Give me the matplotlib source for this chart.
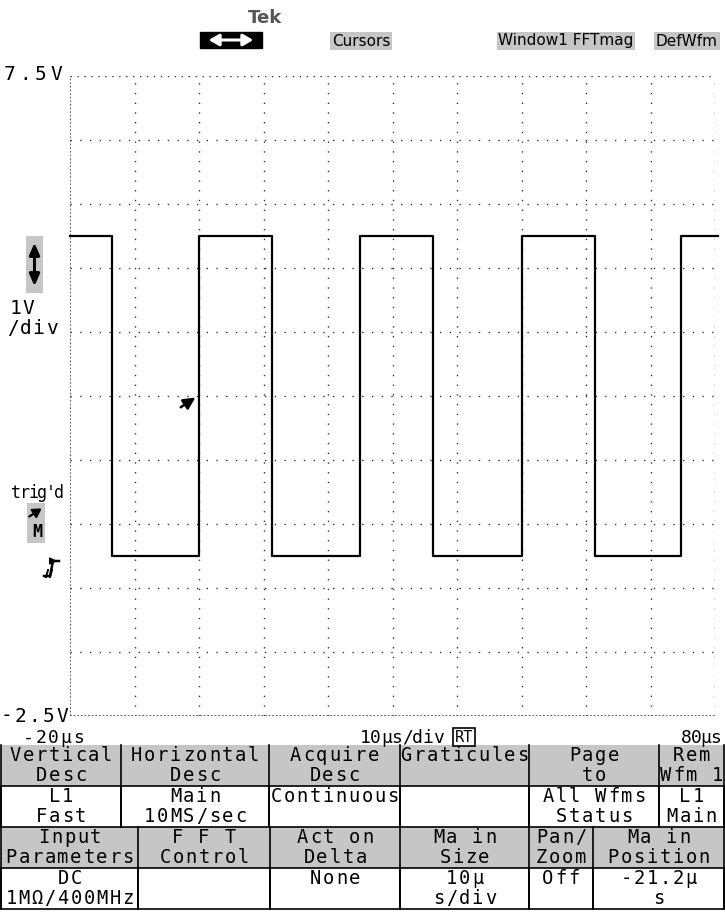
import matplotlib
matplotlib.use("Agg")
import matplotlib.pyplot as plt
import numpy as np
from matplotlib.patches import Rectangle

# waveform: 1 V/div, 10 us/div, square wave between two levels
t_start_us = -20.0
t_end_us = 80.0
v_bottom = -2.5
v_top = 7.5
level_high = 5.0
level_low = 0.0
edge_times_us = [-13.5, 0.0, 11.3, 25.0, 36.3, 50.1, 61.4, 74.7]
trigger_time_us = 0.0
trigger_level_v = 2.5

# menu text
header_items = ["Cursors", "Window1 FFTmag", "DefWfm"]
top_labels = ["Vertical\nDesc", "Horizontal\nDesc", "Acquire\nDesc", "Graticules", "Page\nto", "Rem\nWfm 1"]
top_values = ["L1\nFast", "Main\n10MS/sec", "Continuous\n", "", "All Wfms\nStatus", "L1\nMain"]
bottom_labels = ["Input\nParameters", "F F T\nControl", "Act on\nDelta", "Ma in\nSize", "Pan/\nZoom", "Ma in\nPosition"]
bottom_values = ["DC\n1MΩ/400MHz", "", "None\n", "10µ\ns/div", "Off\n", "-21.2µ\ns"]

W, H = 725, 913
MONO = "DejaVu Sans Mono"
STIPPLE = "#c6c6c6"
GRID_LS = (0, (1, 6))

fig = plt.figure(figsize=(W / 100, H / 100), dpi=100)
fig.patch.set_facecolor("white")

# pixel-space overlay for all the screen furniture
ov = fig.add_axes([0, 0, 1, 1])
ov.set_xlim(0, W)
ov.set_ylim(H, 0)
ov.axis("off")


def mono(x, y, s, pitch, size, ha="left", **kw):
    """Scope-style fixed pitch text, one glyph per cell."""
    n = len(s)
    if ha == "center":
        x0 = x - n * pitch / 2
    elif ha == "right":
        x0 = x - n * pitch
    else:
        x0 = x
    for i, ch in enumerate(s):
        if ch != " ":
            ov.text(x0 + pitch * (i + 0.5), y, ch, fontsize=size, family=MONO, ha="center",
                    va="center", **kw)


# scope graticule area
px_left, px_right, px_top, px_bottom = 70, 715, 76, 716
ax = fig.add_axes([px_left / W, 1 - px_bottom / H, (px_right - px_left) / W, (px_bottom - px_top) / H])
ax.set_xlim(t_start_us, t_end_us)
ax.set_ylim(v_bottom, v_top)
ax.patch.set_alpha(0)
for s in ax.spines.values():
    s.set_visible(False)
ax.set_xticks([])
ax.set_yticks([])

for xv in np.arange(t_start_us + 10, t_end_us + 1, 10):
    ax.axvline(xv, color="#333333", lw=1.0, ls=GRID_LS, zorder=1)
for yv in np.arange(v_bottom + 1, v_top, 1):
    ax.axhline(yv, color="#333333", lw=1.0, ls=GRID_LS, zorder=1)
ax.axhline(v_top, color="#333333", lw=1.0, ls=(0, (1, 4)), zorder=1)
ax.axvline(t_start_us, color="#555555", lw=1.3, ls=(0, (1, 1)), zorder=1)
ax.axhline(v_bottom, color="#555555", lw=1.3, ls=(0, (1, 1)), zorder=1)

# build step trace from the edge times
times = [t_start_us]
levels = [level_high]
lvl = level_high
for te in edge_times_us:
    times += [te, te]
    levels += [lvl, level_low if lvl == level_high else level_high]
    lvl = levels[-1]
times.append(t_end_us + 0.5)
levels.append(lvl)
ax.plot(times, levels, color="black", lw=1.6, clip_on=False, zorder=3)

ax.annotate("", xy=(trigger_time_us - 0.2, trigger_level_v), xytext=(trigger_time_us - 3.2, trigger_level_v - 0.2),
            arrowprops=dict(arrowstyle="-|>,head_width=0.35,head_length=0.7", color="black", lw=1.8))

# header
ov.text(265, 18, "Tek", fontsize=13, family="DejaVu Sans", color="#555555", ha="center", va="center",
        fontweight="bold")
ov.add_patch(Rectangle((200, 32), 62, 16, facecolor="black", edgecolor="black"))
ov.annotate("", xy=(256, 40), xytext=(206, 40),
            arrowprops=dict(arrowstyle="<|-|>,head_width=0.35,head_length=0.6", color="white", lw=2.2))
for txt, xc in zip(header_items, [361, 566, 687]):
    ov.text(xc, 41, txt, fontsize=11, family="DejaVu Sans", ha="center", va="center",
            bbox=dict(boxstyle="square,pad=0.1", facecolor=STIPPLE, edgecolor="none"))

# left side labels
mono(2, 75, "7.5V", 15.5, 14)
mono(0, 716, "-2.5V", 13.8, 14)
ov.add_patch(Rectangle((26, 236), 17, 57, facecolor=STIPPLE, edgecolor="none"))
ov.annotate("", xy=(34.5, 240), xytext=(34.5, 289),
            arrowprops=dict(arrowstyle="<|-|>,head_width=0.3,head_length=0.7", color="black", lw=2.2))
mono(9, 309, "1V", 13, 14)
mono(6, 329, "/div", 13, 14)
mono(12, 493, "trig'd", 8.6, 12)
ov.add_patch(Rectangle((27, 503), 18, 40, facecolor=STIPPLE, edgecolor="none"))
ov.annotate("", xy=(44, 507), xytext=(27, 518),
            arrowprops=dict(arrowstyle="-|>,head_width=0.3,head_length=0.5", color="black", lw=1.6))
ov.text(37, 532, "M", fontsize=12, family=MONO, ha="center", va="center", fontweight="bold")
# rising-slope trigger icon
ov.plot([44, 50, 53, 59], [576, 576, 561, 561], color="black", lw=1.8)
ov.plot([48, 46], [570, 577], color="black", lw=1.4)
ov.plot([52, 50], [570, 577], color="black", lw=1.4)
ov.annotate("", xy=(60, 561), xytext=(54, 561),
            arrowprops=dict(arrowstyle="-|>,head_width=0.2,head_length=0.4", color="black", lw=1.2))

# horizontal scale readout
mono(22, 738, "-20µs", 12.5, 13)
mono(444, 738, "10µs/div", 10.5, 13, ha="right")
ov.text(464, 737, "RT", fontsize=11, family=MONO, ha="center", va="center",
        bbox=dict(boxstyle="square,pad=0.1", facecolor="white", edgecolor="black", lw=1.2))
mono(721, 738, "80µs", 10, 13, ha="right")

# menu table
row_h = 20.5
top_y0 = 745
bot_y0 = top_y0 + 4 * row_h
top_edges = [1, 121, 269, 400, 529, 659, 724]
bot_edges = [1, 138, 270, 400, 529, 593, 724]
PITCH = 13.0
TSIZE = 13.5


def draw_block(y0, edges, labels, values):
    ov.add_patch(Rectangle((edges[0], y0), edges[-1] - edges[0], 2 * row_h, facecolor=STIPPLE,
                           edgecolor="none", zorder=1))
    for i in range(len(labels)):
        x0, x1 = edges[i], edges[i + 1]
        xc = (x0 + x1) / 2
        ov.add_patch(Rectangle((x0, y0 + 2 * row_h), x1 - x0, 2 * row_h, facecolor="white",
                               edgecolor="black", lw=1.2, zorder=2))
        for k, line in enumerate(labels[i].split("\n")):
            mono(xc, y0 + row_h * (k + 0.5), line, PITCH, TSIZE, ha="center", zorder=3)
        for k, line in enumerate(values[i].split("\n")):
            mono(xc, y0 + row_h * (k + 2.5), line, PITCH, TSIZE, ha="center", zorder=3)
        ov.plot([x0, x0], [y0, y0 + 4 * row_h], color="black", lw=1.2, zorder=2)
    ov.plot([edges[-1], edges[-1]], [y0, y0 + 4 * row_h], color="black", lw=1.2, zorder=2)


draw_block(top_y0, top_edges, top_labels, top_values)
draw_block(bot_y0, bot_edges, bottom_labels, bottom_values)

fig.savefig("out.png", dpi=100)
